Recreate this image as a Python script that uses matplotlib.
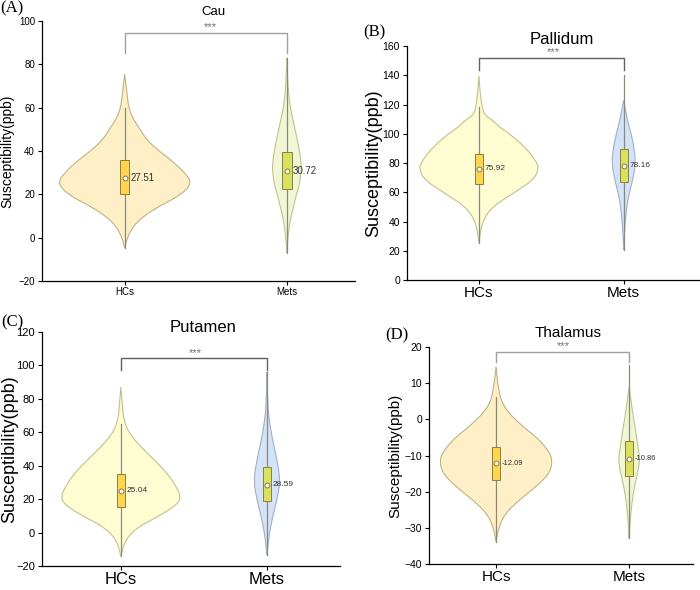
import matplotlib
matplotlib.use('Agg')
import matplotlib.pyplot as plt
from matplotlib.path import Path
from matplotlib.patches import PathPatch
import numpy as np

plt.rcParams['font.family'] = ['Liberation Sans', 'DejaVu Sans']

groups = ['HCs', 'Mets']

# Cau
cau_hc_y = [75.5, 70, 65, 60, 55, 50, 45, 40, 35, 30, 25.3, 20, 15, 10, 5, 0, -4.8]
cau_hc_d = [0, .02, .04, .06, .12, .23, .33, .51, .72, .89, 1.0, .85, .54, .28, .12, .04, 0]
cau_met_y = [83, 70, 64, 58, 52, 46, 41, 36, 32, 28, 24, 19, 15, 10, 5, 0, -7]
cau_met_d = [0, .07, .16, .29, .5, .68, .84, .95, 1, .93, .84, .61, .48, .29, .16, .07, 0]
cau_box = [(20.2, 35.9), (22.5, 39.7)]
cau_whisk = [(-4.8, 59.8), (-7, 83)]
cau_mean = [27.51, 30.72]

# Pallidum
pal_hc_y = [139.5, 127.7, 118.5, 113, 109.4, 104, 100.3, 91.2, 82, 76.4, 68.4, 59.3, 50.1, 41, 32, 25.5]
pal_hc_d = [0, .02, .05, .09, .22, .36, .50, .76, .94, 1.0, .91, .57, .22, .07, .02, 0]
pal_met_y = [123, 109.4, 100.3, 91.2, 79.8, 68.4, 59.3, 50.1, 36.5, 20.5]
pal_met_d = [0, .3, .61, .85, 1, .75, .45, .25, .09, 0]
pal_box = [(65.6, 86.2), (67.3, 89.4)]
pal_whisk = [(25.5, 118.2), (20.5, 140)]
pal_mean = [75.92, 78.16]

# Putamen
put_hc_y = [87.1, 78.1, 66.2, 58.2, 50.3, 42.4, 34.4, 26.5, 21.5, 16.5, 8.6, 2.7, -5.3, -14.2]
put_hc_d = [0, .02, .05, .16, .36, .59, .80, .94, 1, .94, .57, .25, .06, 0]
put_met_y = [96, 80, 70.2, 60.2, 50.3, 40.4, 30.5, 20.5, 10.6, 0.7, -7.3, -13.2]
put_met_d = [0, .04, .13, .31, .57, .84, 1, .79, .47, .21, .08, 0]
put_box = [(15.3, 35.2), (18.6, 39.0)]
put_whisk = [(-14.2, 65), (-13.2, 96)]
put_mean = [25.04, 28.59]

# Thalamus
tha_hc_y = [14.6, 8.1, 3.5, -1.1, -4.8, -8.5, -11.2, -14.9, -18.6, -22.3, -26, -29.7, -33.8]
tha_hc_d = [0, .04, .13, .4, .71, .92, 1, .95, .71, .41, .16, .05, 0]
tha_met_y = [9, 5.3, 0.7, -3.9, -8.5, -10.8, -14, -18.6, -23.2, -27.8, -32.9]
tha_met_d = [0, .17, .39, .65, .87, 1, .87, .49, .26, .1, 0]
tha_box = [(-16.9, -7.6), (-15.8, -6.0)]
tha_whisk = [(-33.8, 6.3), (-32.9, 15)]
tha_mean = [-12.09, -10.86]

W, H = 700, 590


def px_rect(x0, y0, x1, y1):
    return [x0 / W, 1 - y1 / H, (x1 - x0) / W, (y1 - y0) / H]


def violin_path(x, ys, hw):
    # outline down the left side and back up the right, smoothed with quadratic curves
    pts = [(x - w, y) for y, w in zip(ys, hw)] + [(x + w, y) for y, w in zip(ys[::-1], hw[::-1])]
    pts = np.array(pts)
    verts = [pts[0]]
    codes = [Path.MOVETO]
    for i in range(1, len(pts) - 1):
        mid = (pts[i] + pts[i + 1]) / 2
        verts += [pts[i], mid]
        codes += [Path.CURVE3, Path.CURVE3]
    verts.append(pts[-1])
    codes.append(Path.LINETO)
    verts.append(pts[0])
    codes.append(Path.CLOSEPOLY)
    return Path(verts, codes)


warm = dict(hc_fill='#feefc6', hc_edge='#bdb287', met_fill='#f1f6d4', met_edge='#bfc38e')
cool = dict(hc_fill='#fffdd2', hc_edge='#c4bf8c', met_fill='#d4e3f8', met_edge='#9fb0cc')

panels = [
    dict(rect=(42, 21, 355, 281), xlim=(0.49, 2.42), ylim=(-20, 100), yticks=np.arange(-20, 101, 20),
         title='Cau', tpos=(213, 12), tsize=9.5, letter='(A)', lpos=(0, 8),
         ysize=7, xsize=7, ylsize=10, ylx=-0.09,
         prof=[(cau_hc_y, cau_hc_d, 0.415), (cau_met_y, cau_met_d, 0.09)],
         box=cau_box, whisk=cau_whisk, mean=cau_mean, col=warm,
         br=(85.2, 94.5), stars=(210, 27), br_col='#a0a0a0', msize=7),
    dict(rect=(407, 46, 699, 280), xlim=(0.503, 2.52), ylim=(0, 160), yticks=np.arange(0, 161, 20),
         title='Pallidum', tpos=(562, 39), tsize=12, letter='(B)', lpos=(363, 32),
         ysize=7.5, xsize=11, ylsize=13, ylx=-0.086,
         prof=[(pal_hc_y, pal_hc_d, 0.415), (pal_met_y, pal_met_d, 0.083)],
         box=pal_box, whisk=pal_whisk, mean=pal_mean, col=cool,
         br=(143.6, 151.8), stars=(553, 52), br_col='#606060', msize=6),
    dict(rect=(42, 332, 340, 566), xlim=(0.46, 2.5), ylim=(-20, 120), yticks=np.arange(-20, 121, 20),
         title='Putamen', tpos=(203, 328), tsize=12, letter='(C)', lpos=(1, 322),
         ysize=8, xsize=12, ylsize=13, ylx=-0.08,
         prof=[(put_hc_y, put_hc_d, 0.41), (put_met_y, put_met_d, 0.09)],
         box=put_box, whisk=put_whisk, mean=put_mean, col=cool,
         br=(97.4, 104.5), stars=(195, 353), br_col='#606060', msize=6),
    dict(rect=(429, 347, 693, 564), xlim=(0.496, 2.48), ylim=(-40, 20), yticks=np.arange(-40, 21, 10),
         title='Thalamus', tpos=(568, 333), tsize=11, letter='(D)', lpos=(385, 335),
         ysize=7.5, xsize=11, ylsize=11, ylx=-0.102,
         prof=[(tha_hc_y, tha_hc_d, 0.425), (tha_met_y, tha_met_d, 0.08)],
         box=tha_box, whisk=tha_whisk, mean=tha_mean, col=warm,
         br=(15.9, 18.6), stars=(563, 346), br_col='#a0a0a0', msize=5.5),
]

fig = plt.figure(figsize=(W / 100, H / 100), dpi=100)

for p in panels:
    ax = fig.add_axes(px_rect(*p['rect']))
    c = p['col']
    fills = [(c['hc_fill'], c['hc_edge'], '#ffd54f'), (c['met_fill'], c['met_edge'], '#d9e25e')]
    for i, (ys, ds, wmax) in enumerate(p['prof']):
        x = i + 1
        hw = np.array(ds) * wmax
        ax.add_patch(PathPatch(violin_path(x, list(ys), list(hw)), facecolor=fills[i][0],
                               edgecolor=fills[i][1], lw=0.8, zorder=1))
        lo, hi = p['whisk'][i]
        ax.plot([x, x], [lo, hi], color='#8a8a7a', lw=0.9, zorder=2)
        q1, q3 = p['box'][i]
        ax.bar(x, q3 - q1, bottom=q1, width=0.058, color=fills[i][2], edgecolor='#8c7d45', lw=0.7, zorder=3)
        m = p['mean'][i]
        ax.plot(x, m, 'o', ms=3.5, mfc='white', mec='#8c7d45', mew=0.7, zorder=4)
        ax.annotate(f'{m:.2f}', (x, m), xytext=(4, 0), textcoords='offset points',
                    va='center', ha='left', fontsize=p['msize'], color='#333333', zorder=5)

    b0, b1 = p['br']
    ax.plot([1, 1, 2, 2], [b0, b1, b1, b0], color=p['br_col'], lw=1.0, clip_on=False)
    sx, sy = p['stars']
    fig.text(sx / W, 1 - sy / H, '***', ha='center', va='center', fontsize=8, color='#707070')

    ax.set_xlim(*p['xlim'])
    ax.set_ylim(*p['ylim'])
    ax.set_yticks(p['yticks'])
    ax.set_xticks([1, 2])
    ax.set_xticklabels(groups, fontsize=p['xsize'])
    ax.tick_params(axis='y', labelsize=p['ysize'], length=3, width=0.8, pad=2)
    ax.tick_params(axis='x', length=3, width=0.8, pad=1)
    for s in ['top', 'right']:
        ax.spines[s].set_visible(False)
    ax.spines['left'].set_linewidth(0.9)
    ax.spines['bottom'].set_linewidth(0.9)
    ax.set_ylabel('Susceptibility(ppb)', fontsize=p['ylsize'])
    ax.yaxis.set_label_coords(p['ylx'], 0.5)

    tx, ty = p['tpos']
    fig.text(tx / W, 1 - ty / H, p['title'], ha='center', va='center', fontsize=p['tsize'])
    lx, ly = p['lpos']
    fig.text(lx / W, 1 - ly / H, p['letter'], ha='left', va='center', fontsize=12,
             family=['Liberation Serif', 'DejaVu Serif'])

fig.savefig('out.png', dpi=100)
